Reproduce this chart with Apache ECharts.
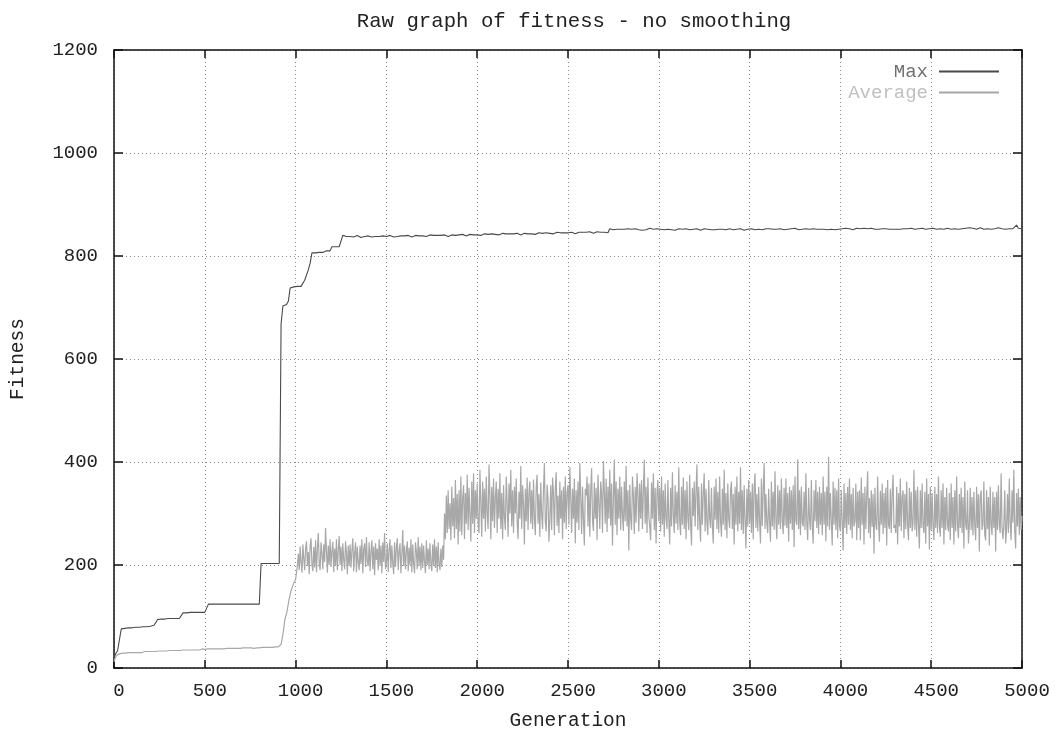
<!DOCTYPE html>
<html><head><meta charset="utf-8">
<script src="https://cdn.jsdelivr.net/npm/echarts@6/dist/echarts.min.js"></script>
<style>html,body{margin:0;padding:0;background:#fff}#c{width:1059px;height:731px}</style>
</head><body><div id="c"></div>
<script>
const chartTitle = 'Raw graph of fitness - no smoothing';
const xAxisName = 'Generation';
const yAxisName = 'Fitness';
const seriesNames = ['Max', 'Average'];
const xRange = [0, 5000, 500];
const yRange = [0, 1200, 200];
const maxStep = 10;     // Max: one value every 10 generations, 0..5000
const averageStep = 5;  // Average: one value every 5 generations, 0..5000

const maxValues = [
20,28,34,35,76,77,77,78,78,78,
78,79,79,79,79,80,80,80,80,80,
81,81,83,88,94,95,95,95,95,96,
96,96,96,96,96,96,96,96,107,107,
107,107,108,108,108,108,108,108,108,108,
108,108,124,124,124,124,124,124,124,124,
124,124,124,124,124,124,124,124,124,124,
124,124,124,124,124,124,124,124,124,124,
124,203,203,203,203,203,203,203,203,203,
203,203,668,703,705,706,712,738,740,740,
740,741,741,741,742,753,755,773,786,806,
806,806,807,807,807,807,808,810,810,810,
818,818,818,818,818,818,840,839,838,840,
838,839,837,838,840,838,836,839,838,838,
839,838,837,839,838,840,838,837,839,838,
838,839,840,838,837,839,838,840,839,838,
839,838,840,839,837,839,840,838,839,840,
839,840,838,839,841,839,840,838,840,839,
840,839,841,840,838,840,841,839,840,841,
841,840,842,841,839,841,842,840,841,842,
841,842,840,842,843,841,842,840,843,842,
842,843,841,842,844,842,843,841,843,842,
843,842,844,843,841,843,844,842,843,844,
843,844,842,844,845,843,844,842,845,844,
844,845,843,844,846,844,845,843,845,846,
845,844,846,845,843,845,846,844,846,845,
846,845,847,846,844,846,847,845,846,847,
846,847,845,853,852,851,853,852,850,852,
851,852,850,853,851,852,850,853,852,851,
852,850,853,851,852,854,851,852,850,853,
851,852,853,851,850,852,853,851,852,850,
852,853,851,852,850,853,852,851,853,852,
851,853,852,850,852,853,851,852,854,851,
852,851,853,852,850,852,853,851,852,853,
852,851,853,852,851,853,852,850,853,852,
851,853,852,851,853,852,854,851,852,853,
852,853,851,852,854,852,851,853,852,851,
853,852,851,853,852,854,852,851,853,852,
852,853,851,852,854,853,851,852,853,852,
853,852,854,851,853,852,853,851,854,852,
852,853,851,854,852,853,852,851,853,854,
852,853,852,854,851,853,852,854,853,852,
853,852,854,853,851,853,854,852,853,852,
854,852,853,852,854,853,851,853,852,854,
853,852,854,853,852,854,853,852,855,853,
852,854,853,852,854,853,855,852,853,854,
853,852,854,853,855,852,854,853,852,854,
853,855,852,854,853,852,854,855,853,852,
854,853,855,852,854,853,852,855,854,853,
854,852,855,853,854,853,852,860,854,853,
853
];

const averageValues = [
12,18,22,24,26,27,27,28,28,28,
29,28,29,29,30,29,30,30,29,30,
30,31,30,30,31,30,31,31,30,31,
31,30,31,31,32,31,31,32,31,32,
32,31,32,32,33,32,32,33,32,33,
33,32,33,33,32,33,34,33,33,34,
33,34,33,34,34,33,34,34,35,34,
34,35,34,34,35,34,35,35,34,35,
35,34,35,35,36,35,35,36,35,35,
36,35,36,36,35,36,36,37,36,36,
36,37,36,37,37,36,37,37,36,37,
37,36,37,37,38,37,37,38,37,37,
38,37,37,38,38,37,38,38,37,38,
38,37,38,38,39,38,38,39,38,38,
39,38,39,38,39,39,38,39,39,38,
39,39,40,39,38,39,40,39,39,40,
39,40,39,40,40,39,40,40,39,40,
40,39,40,41,40,40,39,40,41,40,
40,41,41,43,46,55,65,78,92,100,
105,115,125,135,142,150,155,160,165,168,
172,185,200,222,190,236,205,185,240,212,
190,232,246,198,225,182,238,252,200,188,
235,195,248,186,230,262,204,190,244,222,
192,240,206,272,228,185,238,200,250,196,
226,245,186,232,198,250,190,228,256,200,
236,188,242,210,192,246,224,182,238,198,
240,195,228,252,188,222,244,186,236,204,
190,238,202,250,184,230,242,196,254,206,
198,244,188,226,248,192,236,180,242,210,
232,190,250,198,238,184,244,206,262,192,
204,242,186,230,250,194,238,202,182,244,
196,234,252,190,226,242,184,220,268,198,
238,192,228,246,188,234,200,250,186,240,
202,184,244,226,192,254,198,236,190,242,
194,238,206,184,248,200,232,192,242,204,
188,240,198,250,194,236,186,244,202,190,
232,196,238,210,300,250,335,262,345,270,
320,248,352,275,330,252,365,270,338,240,
345,265,372,258,330,355,250,340,280,375,
268,350,296,245,362,280,378,262,345,290,
358,280,262,385,320,255,362,290,348,265,
372,300,270,395,335,250,352,285,368,272,
330,362,262,348,290,378,270,340,250,355,
292,268,372,320,255,358,300,385,275,345,
262,352,300,368,282,250,342,290,392,270,
355,318,240,348,285,370,268,340,362,280,
345,270,366,292,258,352,375,280,338,255,
360,298,270,348,398,285,265,356,330,245,
292,355,268,370,340,258,348,380,276,335,
262,362,290,345,250,352,282,372,270,340,
355,278,390,330,262,348,290,368,242,345,
282,362,268,398,335,260,352,290,238,348,
335,372,275,358,255,342,388,285,266,360,
290,350,248,375,322,270,362,340,262,402,
342,280,368,264,352,290,385,276,358,238,
330,405,278,362,258,348,290,372,268,352,
295,266,362,285,392,275,345,228,356,290,
268,372,335,260,352,282,378,340,265,358,
290,365,270,345,405,280,352,262,370,295,
275,248,360,290,378,268,350,242,340,365,
285,350,265,372,278,345,255,358,292,270,
365,288,240,350,275,380,295,262,355,280,
342,268,390,285,258,352,278,370,270,345,
250,362,290,268,375,282,238,350,295,362,
275,345,395,268,352,285,245,358,278,342,
378,265,348,282,258,365,290,272,350,276,
242,352,288,368,270,342,262,372,285,255,
348,278,385,268,340,252,358,290,272,345,
362,270,338,240,352,278,372,265,342,280,
390,268,345,260,355,285,232,348,275,365,
280,342,262,358,250,350,378,272,338,265,
352,285,242,368,276,345,398,270,338,280,
262,348,285,245,362,275,342,268,382,285,
250,355,278,345,270,368,288,260,350,276,
368,272,340,245,352,280,345,268,355,235,
372,285,278,405,270,345,258,352,282,275,
342,268,378,280,248,350,288,268,365,278,
242,345,285,365,272,342,260,352,278,340,
258,372,278,342,246,352,275,410,268,340,
285,238,362,278,350,268,345,252,368,276,
265,345,282,228,358,272,340,260,352,278,
368,268,338,252,350,275,285,358,248,342,
272,345,248,370,278,340,240,352,270,335,
382,262,330,252,345,274,338,222,350,278,
268,372,282,245,344,278,358,260,340,272,
350,238,365,278,270,348,262,338,375,272,
278,262,352,240,340,275,368,266,332,345,
252,338,270,362,278,248,350,272,342,265,
282,385,268,345,255,352,278,232,345,272,
358,276,262,342,242,368,275,338,230,352,
268,340,276,248,352,272,338,262,372,278,
255,345,272,358,240,332,268,350,278,265,
340,248,358,272,332,240,345,265,372,278,
252,338,272,350,262,332,232,362,278,268,
345,242,275,350,268,332,258,342,278,248,
352,272,338,226,332,345,268,278,362,258,
248,345,270,332,238,352,278,258,342,272,
332,226,342,268,355,278,262,378,275,250,
278,345,242,272,338,262,368,280,248,345,
282,385,265,232,340,275,348,258,332,268,
295
];

const FONT = "'Liberation Mono', 'DejaVu Sans Mono', monospace";
const pairs = (vals, step) => vals.map((v, i) => [i * step, v]);

const frameLine = { show: true, onZero: false, lineStyle: { color: '#111', width: 1.5 } };
const tickIn = len => ({ show: true, inside: true, length: len, lineStyle: { color: '#111', width: 1.5 } });
const gridLine = { show: true, lineStyle: { color: '#8a8a8a', width: 1, type: [1, 3] } };
const labelStyle = { fontFamily: FONT, fontSize: 19, color: '#222', formatter: v => String(v) };

const chart = echarts.init(document.getElementById('c'), null, { renderer: 'canvas' });
chart.setOption({
  animation: false,
  backgroundColor: '#fff',
  title: {
    text: chartTitle, left: 569, top: 6, textAlign: 'center',
    textStyle: { fontFamily: FONT, fontSize: 20.7, fontWeight: 'normal', color: '#222' }
  },
  legend: {
    orient: 'vertical', right: 54, top: 57, align: 'right',
    itemWidth: 60, itemHeight: 14, itemGap: 2,
    itemStyle: { opacity: 0 },
    textStyle: { fontFamily: FONT, fontSize: 19, padding: [0, 6, 0, 0] },
    data: [
      { name: seriesNames[0], textStyle: { color: '#707070' } },
      { name: seriesNames[1], textStyle: { color: '#c0c0c0' } }
    ]
  },
  grid: { left: 114, right: 37, top: 50, bottom: 63, outerBoundsMode: 'none', containLabel: false },
  xAxis: [
    {
      type: 'value', min: xRange[0], max: xRange[1], interval: xRange[2], position: 'bottom',
      axisLine: frameLine, axisTick: tickIn(8), splitLine: gridLine,
      axisLabel: Object.assign({ margin: 13, padding: [0, 0, 0, 10] }, labelStyle),
      name: xAxisName, nameLocation: 'middle', nameGap: 43,
      nameTextStyle: { fontFamily: FONT, fontSize: 19.5, color: '#222' }
    },
    {
      type: 'value', min: xRange[0], max: xRange[1], interval: xRange[2], position: 'top',
      axisLine: frameLine, axisTick: tickIn(8), splitLine: { show: false }, axisLabel: { show: false }
    }
  ],
  yAxis: [
    {
      type: 'value', min: yRange[0], max: yRange[1], interval: yRange[2], position: 'left',
      axisLine: frameLine, axisTick: tickIn(9), splitLine: gridLine,
      axisLabel: Object.assign({ margin: 16 }, labelStyle),
      name: yAxisName, nameLocation: 'middle', nameGap: 86, nameRotate: 90,
      nameTextStyle: { fontFamily: FONT, fontSize: 19.5, color: '#222' }
    },
    {
      type: 'value', min: yRange[0], max: yRange[1], interval: yRange[2], position: 'right',
      axisLine: frameLine, axisTick: tickIn(9), splitLine: { show: false }, axisLabel: { show: false }
    }
  ],
  series: [
    {
      name: seriesNames[0], type: 'line', data: pairs(maxValues, maxStep), symbol: 'none',
      lineStyle: { color: '#4a4a4a', width: 1.1 }, itemStyle: { color: '#4a4a4a' }, sampling: null, z: 2
    },
    {
      name: seriesNames[1], type: 'line', data: pairs(averageValues, averageStep), symbol: 'none',
      lineStyle: { color: '#a8a8a8', width: 1.2 }, itemStyle: { color: '#a8a8a8' }, sampling: null, z: 3
    }
  ]
});
</script>
</body></html>
